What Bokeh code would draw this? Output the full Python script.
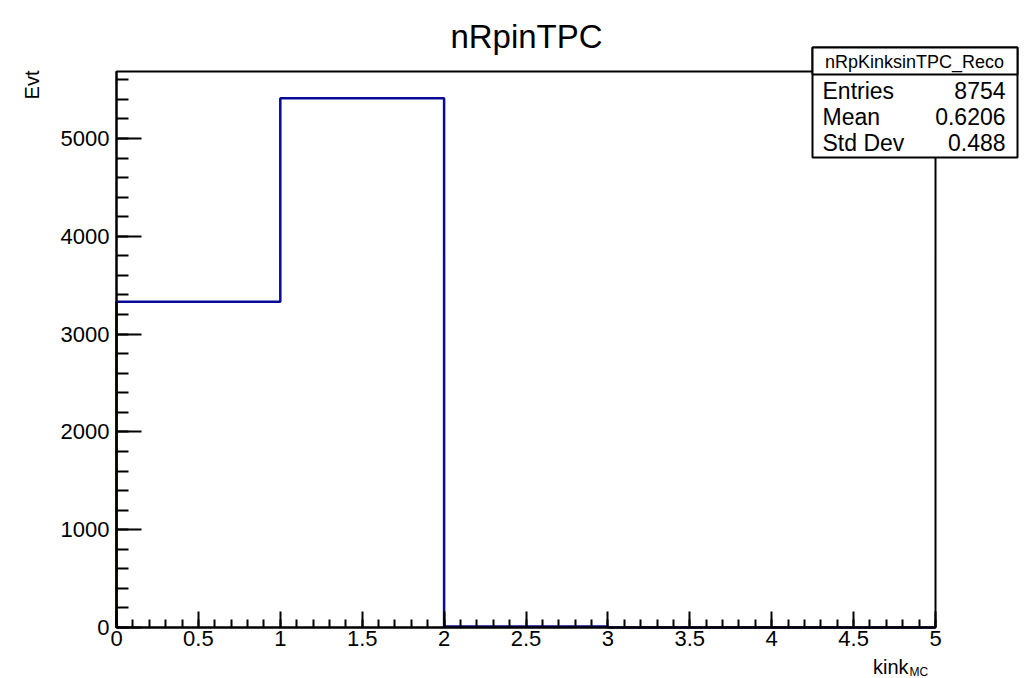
from bokeh.plotting import figure
from bokeh.models import (Range1d, FixedTicker, Label, BoxAnnotation, LinearAxis)
from bokeh.embed import file_html
from bokeh.resources import INLINE

# ---- data ----
bin_edges = [0, 1, 2, 3, 4, 5]
bin_counts = [3332, 5412, 10, 0, 0]
x_ticks = [0, 0.5, 1, 1.5, 2, 2.5, 3, 3.5, 4, 4.5, 5]
x_tick_labels = ["0", "0.5", "1", "1.5", "2", "2.5", "3", "3.5", "4", "4.5", "5"]
y_ticks = [0, 1000, 2000, 3000, 4000, 5000]
y_tick_labels = ["0", "1000", "2000", "3000", "4000", "5000"]
title_text = "nRpinTPC"
x_label = "kink"
x_label_sub = "MC"
y_label = "Evt"
stats_name = "nRpKinksinTPC_Reco"
stats_rows = ["Entries", "Mean", "Std Dev"]
stats_vals = ["8754", "0.6206", "0.488"]

FONT = "Liberation Sans"
W, H = 1025, 678
FL, FR, FT, FB = 116, 935, 71, 627   # ROOT frame edges in pixels
XMIN, XMAX = 0, 5
YMIN, YMAX = 0, 5685

def px2x(px):
    return XMIN + (px - FL) / (FR - FL) * (XMAX - XMIN)

def px2y(py):
    return YMIN + (FB - py) / (FB - FT) * (YMAX - YMIN)

p = figure(width=W, height=H, output_backend="svg", toolbar_location=None,
           x_range=Range1d(px2x(0), px2x(W)), y_range=Range1d(px2y(H), px2y(0)),
           x_axis_location=None, y_axis_location=None,
           min_border=0, title=None)
p.background_fill_color = "white"
p.border_fill_color = "white"
p.outline_line_color = None
p.grid.visible = False

# ROOT frame
p.add_layout(BoxAnnotation(left=XMIN, right=XMAX, bottom=YMIN, top=YMAX,
                           fill_alpha=0, line_color="black", line_alpha=1.0,
                           line_width=2))

# histogram as steps
xs, ys = [], []
for i, c in enumerate(bin_counts):
    xs += [bin_edges[i], bin_edges[i + 1]]
    ys += [c, c]
xs = [bin_edges[0]] + xs + [bin_edges[-1]]
ys = [0] + ys + [0]
p.line(xs, ys, line_color="#0a0a99", line_width=2.5)

# axes
xa = LinearAxis(fixed_location=YMIN, bounds=(XMIN, XMAX))
xa.ticker = FixedTicker(ticks=x_ticks,
                        minor_ticks=[i / 10 for i in range(0, 51)])
xa.major_label_overrides = {t: l for t, l in zip(x_ticks, x_tick_labels)}
xa.major_tick_in = 16
xa.major_tick_out = 0
xa.minor_tick_in = 8
xa.minor_tick_out = 0
xa.axis_line_width = 2
xa.major_tick_line_width = 2
xa.minor_tick_line_width = 2
xa.major_label_text_font = FONT
xa.major_label_text_font_size = "22px"
xa.major_label_text_color = "black"
xa.major_label_standoff = 3
p.add_layout(xa, "below")

ya = LinearAxis(fixed_location=XMIN, bounds=(YMIN, YMAX))
ya.ticker = FixedTicker(ticks=y_ticks,
                        minor_ticks=list(range(0, 5686, 200)))
ya.major_label_overrides = {t: l for t, l in zip(y_ticks, y_tick_labels)}
ya.major_tick_in = 25
ya.major_tick_out = 0
ya.minor_tick_in = 12
ya.minor_tick_out = 0
ya.axis_line_width = 2
ya.major_tick_line_width = 2
ya.minor_tick_line_width = 2
ya.major_label_text_font = FONT
ya.major_label_text_font_size = "22px"
ya.major_label_text_color = "black"
ya.major_label_standoff = 7
p.add_layout(ya, "left")

# title
p.add_layout(Label(x=px2x(526), y=px2y(36), text=title_text, text_font=FONT,
                   text_font_size="33px", text_align="center",
                   text_baseline="alphabetic", text_color="black"))

# axis titles
p.add_layout(Label(x=px2x(908), y=px2y(666), text=x_label, text_font=FONT,
                   text_font_size="20px", text_align="right",
                   text_baseline="alphabetic", text_color="black"))
p.add_layout(Label(x=px2x(909), y=px2y(671), text=x_label_sub, text_font=FONT,
                   text_font_size="12px", text_align="left",
                   text_baseline="alphabetic", text_color="black"))
p.add_layout(Label(x=px2x(31), y=px2y(70), text=y_label, text_font=FONT,
                   text_font_size="20px", text_align="right", angle=1.5708,
                   text_baseline="middle", text_color="black"))

# stats box
SL, SR, ST, SB, SH = 812, 1017, 47, 157, 74
p.add_layout(BoxAnnotation(left=px2x(SL), right=px2x(SR), top=px2y(ST), bottom=px2y(SB),
                           fill_color="white", fill_alpha=1.0,
                           line_color="black", line_alpha=1.0, line_width=2,
                           level="overlay"))
p.add_layout(BoxAnnotation(left=px2x(SL), right=px2x(SR), top=px2y(ST), bottom=px2y(SH),
                           fill_color="white", fill_alpha=1.0,
                           line_color="black", line_alpha=1.0, line_width=2,
                           level="overlay"))
p.add_layout(Label(x=px2x(914), y=px2y(61), text=stats_name, text_font=FONT,
                   text_font_size="18px", text_align="center",
                   text_baseline="middle", text_color="black", level="overlay"))
row_y = [90, 116, 142]
for name, val, ry in zip(stats_rows, stats_vals, row_y):
    p.add_layout(Label(x=px2x(822), y=px2y(ry), text=name, text_font=FONT,
                       text_font_size="23px", text_align="left",
                       text_baseline="middle", text_color="black", level="overlay"))
    p.add_layout(Label(x=px2x(1005), y=px2y(ry), text=val, text_font=FONT,
                       text_font_size="23px", text_align="right",
                       text_baseline="middle", text_color="black", level="overlay"))

open("out.html", "w").write(file_html(p, INLINE))
